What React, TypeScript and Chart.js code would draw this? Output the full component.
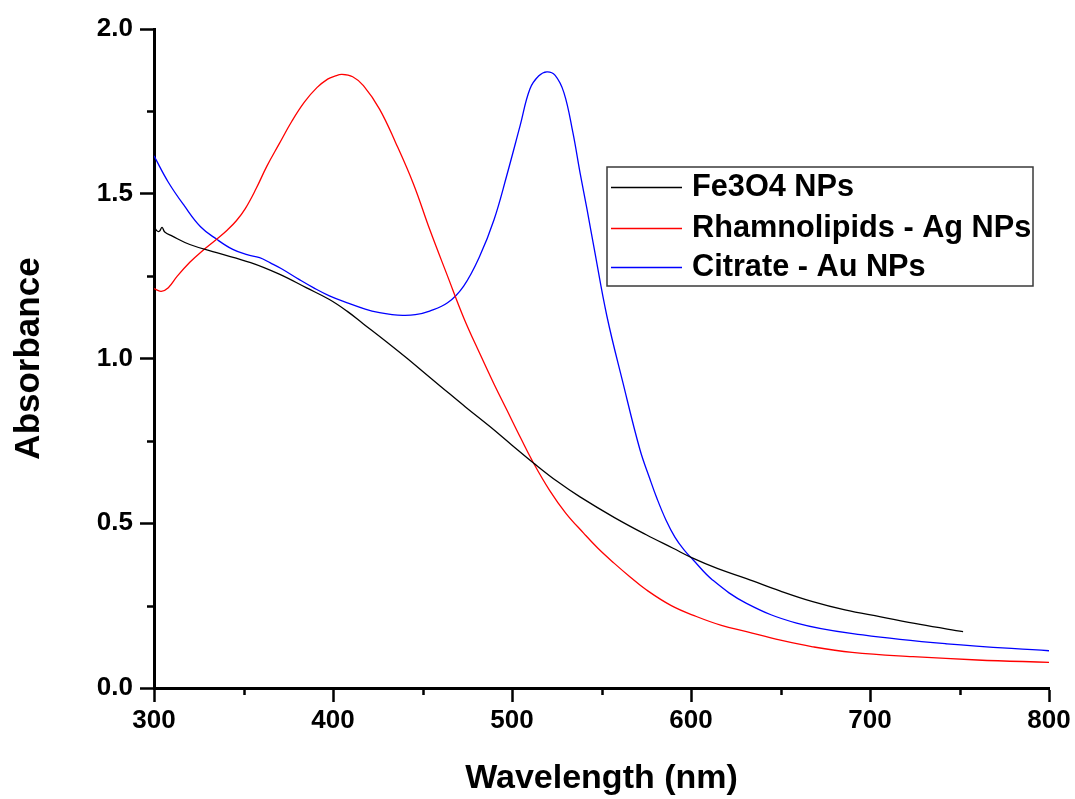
import React, { useEffect, useRef } from "react";
import { Chart, registerables } from "chart.js";

Chart.register(...registerables);

// ---------- data ----------
const seriesLabels = ["Fe3O4 NPs", "Rhamnolipids - Ag NPs", "Citrate - Au NPs"];
const seriesColors = ["#000000", "#ff0000", "#0000ff"];

const fe3o4Wavelength = [300, 301.5, 303, 304.5, 306, 310, 320, 335, 354, 370, 385, 398, 408, 417, 430, 441, 450, 460, 474, 488, 500, 512, 525, 538, 557, 575, 590, 601, 615, 631, 650, 668, 686, 706, 728, 752];
const fe3o4Absorbance = [1.402, 1.388, 1.386, 1.398, 1.384, 1.372, 1.346, 1.321, 1.291, 1.256, 1.215, 1.179, 1.143, 1.105, 1.05, 1.002, 0.961, 0.916, 0.853, 0.792, 0.737, 0.683, 0.628, 0.58, 0.518, 0.465, 0.424, 0.394, 0.362, 0.332, 0.294, 0.262, 0.237, 0.216, 0.193, 0.171];

const agWavelength = [300, 304, 308, 313, 320, 326, 335, 341, 346, 351, 357, 363, 370, 377, 384, 391, 397, 401, 405, 411, 417, 426, 435, 445, 454, 464, 473, 482, 490, 497, 505, 512, 521, 530, 540, 548, 557, 566, 575, 589, 603, 617, 631, 650, 668, 690, 724, 760, 800];
const agAbsorbance = [1.212, 1.204, 1.215, 1.25, 1.292, 1.322, 1.362, 1.39, 1.418, 1.455, 1.515, 1.583, 1.652, 1.72, 1.778, 1.822, 1.848, 1.857, 1.862, 1.855, 1.828, 1.757, 1.655, 1.529, 1.392, 1.25, 1.124, 1.015, 0.922, 0.845, 0.757, 0.683, 0.6, 0.531, 0.47, 0.424, 0.379, 0.337, 0.298, 0.25, 0.217, 0.19, 0.171, 0.145, 0.125, 0.108, 0.095, 0.085, 0.078];

const auWavelength = [300, 308, 317, 326, 335, 344, 352, 359, 365, 371, 381, 389, 398, 408, 418, 426, 433, 439, 446, 454, 464, 473, 482, 490, 497, 504.5, 510, 515, 519.5, 524, 529, 534, 538, 542, 546, 553, 562, 571.5, 577, 581, 586, 591, 596, 601, 612, 631, 659, 696, 743, 800];
const auAbsorbance = [1.615, 1.535, 1.463, 1.4, 1.362, 1.331, 1.315, 1.306, 1.29, 1.273, 1.24, 1.215, 1.19, 1.169, 1.15, 1.139, 1.133, 1.131, 1.133, 1.144, 1.169, 1.22, 1.311, 1.422, 1.554, 1.706, 1.818, 1.858, 1.87, 1.86, 1.807, 1.686, 1.564, 1.45, 1.331, 1.129, 0.926, 0.723, 0.635, 0.575, 0.51, 0.458, 0.42, 0.39, 0.328, 0.257, 0.197, 0.161, 0.134, 0.113];

const xMin = 300;
const xMax = 800;
const xStep = 100;
const xMinorTicks = [350, 450, 550, 650, 750];
const yMin = 0;
const yMax = 2;
const yStep = 0.5;
const yMinorTicks = [0.25, 0.75, 1.25, 1.75];

const xTitle = "Wavelength (nm)";
const yTitle = "Absorbance";

// ---------- styles ----------
const SANS = "'Liberation Sans', Arial, sans-serif";

const toPoints = (xs: number[], ys: number[]) => xs.map((x, i) => ({ x, y: ys[i] }));

const minorTickPlugin = {
  id: "minorTicks",
  afterDraw(chart: any) {
    const { ctx, chartArea, scales } = chart;
    ctx.save();
    ctx.strokeStyle = "#000";
    ctx.lineWidth = 2.5;
    ctx.beginPath();
    for (const v of yMinorTicks) {
      const py = Math.round(scales.y.getPixelForValue(v)) + 0.5;
      ctx.moveTo(chartArea.left - 7, py);
      ctx.lineTo(chartArea.left, py);
    }
    for (const v of xMinorTicks) {
      const px = Math.round(scales.x.getPixelForValue(v)) + 0.5;
      ctx.moveTo(px, chartArea.bottom);
      ctx.lineTo(px, chartArea.bottom + 7);
    }
    ctx.stroke();
    ctx.restore();
  },
};

const boxLegendPlugin = {
  id: "boxLegend",
  afterDatasetsDraw(chart: any) {
    const { ctx } = chart;
    const left = 607;
    const top = 167;
    const width = 426;
    const height = 119;
    const rowY = [187, 228, 267];
    ctx.save();
    ctx.fillStyle = "#ffffff";
    ctx.fillRect(left, top, width, height);
    ctx.strokeStyle = "#3a3a3a";
    ctx.lineWidth = 1.5;
    ctx.strokeRect(left, top, width, height);
    chart.data.datasets.forEach((ds: any, i: number) => {
      const y = rowY[i];
      ctx.strokeStyle = ds.borderColor;
      ctx.lineWidth = 1.5;
      ctx.beginPath();
      ctx.moveTo(611, y + 0.5);
      ctx.lineTo(682, y + 0.5);
      ctx.stroke();
      ctx.fillStyle = "#000";
      ctx.font = `bold 30.7px ${SANS}`;
      ctx.textBaseline = "middle";
      ctx.textAlign = "left";
      ctx.fillText(ds.label, 692, y + 1);
    });
    ctx.restore();
  },
};

export default function App() {
  const canvasRef = useRef<HTMLCanvasElement | null>(null);

  useEffect(() => {
    const canvas = canvasRef.current;
    if (!canvas) return;
    const series = [
      toPoints(fe3o4Wavelength, fe3o4Absorbance),
      toPoints(agWavelength, agAbsorbance),
      toPoints(auWavelength, auAbsorbance),
    ];
    const chart = new Chart(canvas, {
      type: "line",
      data: {
        datasets: series.map((pts, i) => ({
          label: seriesLabels[i],
          data: pts,
          borderColor: seriesColors[i],
          backgroundColor: seriesColors[i],
          borderWidth: 1.3,
          pointRadius: 0,
          fill: false,
          tension: 0.4,
        })),
      },
      options: {
        responsive: false,
        animation: false,
        events: [],
        layout: { padding: { left: 0, top: 29, right: 26, bottom: 0 } },
        plugins: {
          legend: { display: false },
          tooltip: { enabled: false },
        },
        scales: {
          x: {
            type: "linear",
            min: xMin,
            max: xMax,
            afterFit: (scale: any) => {
              scale.height = 111;
            },
            ticks: {
              stepSize: xStep,
              color: "#000",
              padding: 3,
              font: { family: SANS, size: 26, weight: "bold" },
              callback: (v: any) => String(v),
            },
            grid: {
              display: true,
              drawOnChartArea: false,
              drawTicks: true,
              tickLength: 14,
              tickWidth: 2.5,
              tickColor: "#000",
            },
            border: { display: true, color: "#000", width: 3 },
            title: {
              display: true,
              text: xTitle,
              color: "#000",
              padding: { top: 0, bottom: 0 },
              font: { family: SANS, size: 34, weight: "bold" },
            },
          },
          y: {
            type: "linear",
            min: yMin,
            max: yMax,
            afterFit: (scale: any) => {
              scale.width = 154;
            },
            ticks: {
              stepSize: yStep,
              color: "#000",
              padding: 7,
              font: { family: SANS, size: 26, weight: "bold" },
              callback: (v: any) => Number(v).toFixed(1),
            },
            grid: {
              display: true,
              drawOnChartArea: false,
              drawTicks: true,
              tickLength: 14,
              tickWidth: 2.5,
              tickColor: "#000",
            },
            border: { display: true, color: "#000", width: 3 },
            title: {
              display: true,
              text: yTitle,
              color: "#000",
              padding: { top: 8, bottom: 0 },
              font: { family: SANS, size: 35, weight: "bold" },
            },
          },
        },
      },
      plugins: [minorTickPlugin, boxLegendPlugin],
    });
    return () => chart.destroy();
  }, []);

  return (
    <div style={{ position: "absolute", left: 0, top: 0, width: 1075, height: 799, background: "#fff" }}>
      <canvas ref={canvasRef} width={1075} height={799} />
    </div>
  );
}
